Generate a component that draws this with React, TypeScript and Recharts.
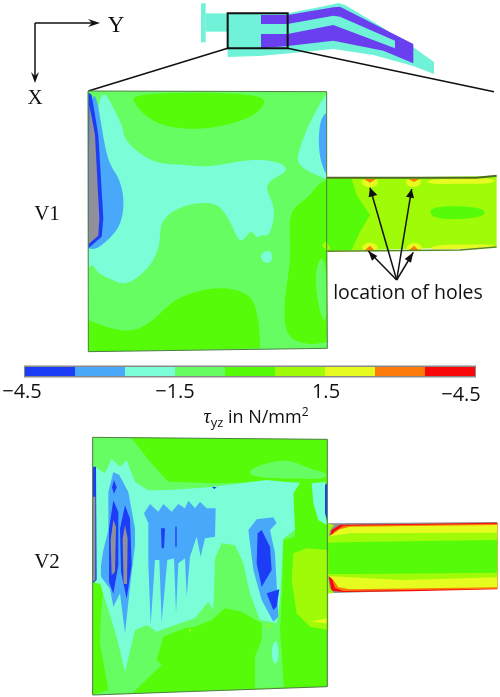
import { ScatterChart, Scatter, XAxis, YAxis, ReferenceArea } from "recharts";

type Pt = [number, number];

const BLUE = "#1c3cf5";
const SKY = "#4aa8fb";
const CYAN = "#7bfdd8";
const LEAF = "#66fd62";
const GREEN = "#55fb08";
const LIME = "#a0fb08";
const YELLOW = "#e6fb20";
const ORANGE = "#fb7a08";
const RED = "#f80808";
const GREY = "#90909a";
const TEAL = "#70f2d8";
const PURPLE = "#6a3ff0";

// colour bar
const barLevels = [-4.5, -3.5, -2.5, -1.5, -0.5, 0.5, 1.5, 2.5, 3.5, 4.5];
const barColors = [BLUE, SKY, CYAN, LEAF, GREEN, LIME, YELLOW, ORANGE, RED];

// small model at the top
const flange: Pt[] = [[603, 10], [617, 10], [617, 127], [603, 127]];
const neck: Pt[] = [[617, 40], [685, 40], [685, 95], [617, 95]];
const body: Pt[] = [[683, 40], [864, 40], [990, 15], [1015, 9], [1035, 15], [1125, 68], [1240, 142], [1302, 186], [1302, 222], [1240, 198], [1120, 165], [1000, 147], [870, 160], [780, 168], [683, 171]];
const slots: Pt[] = [[783, 45], [863, 45], [1000, 22], [1020, 20], [1240, 132], [1240, 190], [1150, 152], [1000, 122], [863, 138], [783, 145], [783, 102], [863, 102], [1000, 75], [1185, 145], [1185, 122], [1020, 50], [1000, 47], [863, 72], [783, 72]];
const detailBox: Pt[] = [[683, 40], [863, 40], [863, 145], [683, 145]];
const leaderLeft: Pt[] = [[683, 145], [265, 273]];
const leaderRight: Pt[] = [[863, 145], [1482, 275]];

// V1 block
const v1Outline: Pt[] = [[24, 18], [740, 20], [740, 495], [742, 790], [25, 800]];
const v1Top: Pt[] = [[150, 22], [560, 22], [555, 60], [520, 95], [440, 122], [340, 135], [250, 125], [190, 90], [160, 50]];
const v1Cyan: Pt[] = [[50, 22], [80, 25], [100, 70], [130, 125], [130, 160], [170, 200], [230, 238], [310, 238], [390, 248], [470, 228], [560, 222], [620, 240], [620, 265], [545, 295], [580, 350], [585, 400], [565, 460], [545, 445], [530, 465], [518, 435], [505, 445], [480, 480], [460, 430], [430, 370], [390, 348], [300, 362], [250, 400], [240, 430], [240, 480], [220, 530], [180, 575], [130, 603], [90, 580], [50, 565], [40, 535], [25, 550], [25, 550], [25, 480], [25, 480]];
const v1Island: Pt[] = [[530, 515], [570, 488], [580, 520], [565, 542]];
const v1Sky: Pt[] = [[28, 25], [50, 25], [65, 130], [85, 240], [115, 270], [135, 340], [125, 420], [90, 460], [50, 495], [25, 490], [25, 490]];
const v1Blue: Pt[] = [[25, 22], [35, 30], [55, 150], [70, 400], [65, 455], [25, 490]];
const v1Grey: Pt[] = [[28, 60], [45, 150], [58, 400], [55, 452], [25, 478]];
const v1RightCyan: Pt[] = [[725, 45], [740, 30], [740, 30], [740, 282], [740, 282], [700, 268], [655, 240], [650, 215], [680, 130]];
const v1RightSky: Pt[] = [[735, 85], [740, 85], [740, 85], [740, 270], [740, 270], [725, 240], [715, 190], [718, 110]];
const v1RightGreen: Pt[] = [[740, 285], [740, 285], [740, 285], [710, 300], [690, 335], [640, 365], [625, 410], [635, 520], [615, 620], [610, 730], [640, 770], [700, 780], [742, 770], [742, 770], [742, 770], [742, 495], [742, 495], [742, 495]];
const v1RightLeaf: Pt[] = [[740, 500], [742, 735], [720, 690], [705, 600], [710, 530]];
const v1Spot: Pt[] = [[725, 482], [738, 468], [752, 490], [742, 497]];
const v1Bottom: Pt[] = [[25, 705], [25, 705], [25, 705], [60, 720], [140, 745], [210, 720], [270, 650], [340, 620], [420, 605], [500, 620], [530, 660], [540, 750], [540, 790], [540, 790], [540, 790], [25, 800], [25, 800], [25, 800]];

// V1 channel
const c1Body: Pt[] = [[20, 40], [530, 33], [530, 245], [20, 258]];
const c1Wedge: Pt[] = [[18, 42], [95, 42], [110, 90], [150, 150], [120, 200], [95, 255], [18, 258]];
const c1Blob: Pt[] = [[330, 135], [355, 122], [500, 125], [500, 160], [360, 165], [330, 150]];
const c1TopBand: Pt[] = [[300, 42], [530, 35], [530, 58], [420, 55], [330, 60]];
const c1LowBand: Pt[] = [[320, 255], [340, 240], [420, 238], [530, 238], [530, 245], [420, 252]];
const c1EdgeTop: Pt[] = [[20, 38], [470, 38], [530, 32]];
const c1EdgeLow: Pt[] = [[20, 259], [420, 255], [530, 246]];
const holeGlow: Pt[][] = [
  [[118, 42], [180, 42], [172, 62], [150, 70], [128, 62]],
  [[252, 42], [310, 42], [300, 62], [280, 68], [260, 62]],
  [[122, 258], [128, 238], [150, 230], [172, 238], [178, 258]],
  [[255, 258], [262, 240], [282, 230], [305, 240], [312, 258]],
];
const holeCore: Pt[][] = [
  [[132, 42], [168, 42], [150, 53]],
  [[265, 42], [298, 42], [282, 51]],
  [[132, 258], [150, 242], [165, 258]],
  [[265, 258], [282, 242], [298, 258]],
];
const arrowApex: Pt = [230, 345];
const arrowTips: Pt[] = [[150, 68], [275, 72], [145, 258], [280, 262]];
const arrowHeads: Pt[][] = [
  [[150, 68], [146, 97], [172, 90]],
  [[275, 72], [258, 95], [282, 100]],
  [[145, 258], [172, 273], [156, 287]],
  [[280, 262], [254, 282], [273, 293]],
];

// V2 block
const v2Outline: Pt[] = [[38, 22], [742, 28], [742, 280], [742, 490], [742, 770], [38, 795]];
const v2Leaf: Pt[] = [[38, 22], [155, 25], [210, 95], [265, 155], [400, 160], [660, 155], [640, 190], [645, 320], [610, 330], [605, 590], [612, 772], [240, 783], [38, 795]];
const v2TopLeaf: Pt[] = [[495, 125], [550, 100], [630, 85], [690, 120], [740, 125], [740, 150], [640, 145], [530, 145]];
const v2LeftGreen: Pt[] = [[38, 450], [70, 470], [62, 560], [60, 640], [85, 780], [38, 795]];
const v2MidGreen: Pt[] = [[230, 690], [250, 620], [315, 595], [345, 590], [395, 570], [435, 535], [485, 545], [545, 580], [545, 630], [525, 680], [525, 775], [160, 787], [245, 705]];
const v2RightGreen: Pt[] = [[615, 330], [690, 315], [742, 290], [742, 770], [612, 770], [600, 600]];
const v2Lime: Pt[] = [[640, 370], [680, 355], [745, 360], [745, 600], [690, 590], [650, 550], [635, 450]];
const v2Yellow: Pt[] = [[695, 575], [740, 565], [740, 580]];
const v2Spots: Pt[][] = [
  [[325, 598], [335, 598], [330, 608]],
  [[560, 585], [572, 585], [566, 596]],
];
const v2Cyan: Pt[] = [[95, 86], [120, 111], [140, 91], [165, 156], [205, 181], [270, 180], [395, 171], [560, 150], [660, 160], [640, 190], [645, 300], [610, 325], [600, 510], [590, 580], [540, 570], [510, 490], [490, 400], [465, 345], [425, 340], [405, 385], [400, 540], [385, 515], [345, 565], [285, 585], [230, 605], [200, 585], [165, 600], [135, 725], [110, 620], [85, 540], [60, 460], [45, 460], [45, 110], [75, 130]];
const v2RightCyan: Pt[] = [[695, 160], [735, 155], [740, 285], [715, 270], [700, 220]];
const v2RightBlue: Pt[] = [[735, 165], [742, 160], [742, 275], [735, 250]];
const v2EdgeBlue: Pt[] = [[38, 110], [48, 110], [50, 450], [38, 460]];
const v2EdgeGrey: Pt[] = [[38, 200], [46, 200], [46, 450], [38, 455]];
const v2Sky: Pt[] = [[100, 126], [118, 135], [145, 186], [165, 296], [165, 346], [150, 470], [135, 610], [120, 490], [100, 530], [90, 476], [63, 440], [63, 406], [70, 361], [85, 300], [85, 186]];
const v2Blue: Pt[][] = [
  [[102, 150], [110, 172], [102, 192], [96, 172]],
  [[100, 211], [115, 246], [115, 406], [100, 491], [87, 456], [87, 296]],
  [[135, 226], [150, 266], [155, 406], [140, 506], [123, 426], [120, 296]],
  [[243, 295], [255, 295], [252, 355], [245, 355]],
  [[286, 290], [290, 290], [290, 350], [286, 350]],
  [[395, 170], [410, 172], [403, 177]],
];
const v2Grey: Pt[][] = [
  [[100, 270], [108, 290], [105, 425], [95, 436], [92, 330]],
  [[135, 285], [143, 326], [141, 462], [131, 462], [128, 326]],
];
const v2Comb: Pt[] = [[192, 250], [210, 222], [235, 245], [250, 222], [275, 245], [295, 222], [315, 235], [325, 212], [345, 235], [360, 215], [380, 235], [407, 235], [405, 320], [375, 325], [362, 380], [350, 320], [330, 380], [320, 500], [315, 385], [295, 400], [288, 550], [282, 385], [262, 390], [245, 575], [238, 390], [225, 390], [212, 585], [205, 400], [205, 280]];
const v2BlobSky: Pt[] = [[505, 300], [530, 268], [580, 262], [590, 280], [570, 300], [585, 370], [595, 560], [580, 575], [545, 510], [520, 420], [510, 340]];
const v2BlobBlue: Pt[][] = [
  [[533, 310], [545, 300], [570, 350], [575, 420], [545, 470], [530, 400]],
  [[560, 490], [598, 478], [590, 530], [580, 540]],
];
const v2Island: Pt[] = [[575, 650], [590, 620], [600, 680], [585, 710], [575, 680]];

// V2 channel
const c2Grey: Pt[] = [[50, 70], [562, 66], [562, 265], [50, 280]];
const c2Red: Pt[] = [[60, 112], [65, 90], [90, 74], [300, 72], [562, 68], [562, 268], [300, 274], [100, 276], [65, 272], [58, 240], [52, 170]];
const c2Orange: Pt[] = [[66, 112], [72, 95], [100, 77], [562, 71], [562, 266], [100, 273], [75, 264], [66, 235], [55, 170]];
const c2Yellow: Pt[] = [[52, 112], [90, 88], [120, 80], [562, 75], [562, 262], [120, 268], [85, 262], [70, 240], [52, 225]];
const c2Lime: Pt[] = [[50, 110], [120, 100], [562, 98], [562, 232], [280, 240], [50, 228]];
const c2Green: Pt[] = [[50, 128], [140, 126], [562, 120], [562, 218], [140, 222], [50, 222]];
const c2Corners: Pt[][] = [
  [[50, 70], [72, 75], [60, 92], [56, 110], [50, 110]],
  [[50, 228], [56, 240], [60, 265], [72, 279], [50, 280]],
];

// labels, in page pixels
const labels = [
  { x: 116, y: 32, text: "Y", size: 23, family: "serif" },
  { x: 35, y: 104, text: "X", size: 21, family: "serif" },
  { x: 47, y: 220, text: "V1", size: 21, family: "serif" },
  { x: 47, y: 568, text: "V2", size: 21, family: "serif" },
  { x: 408, y: 299, text: "location of holes", size: 19.5, family: "sans" },
  { x: 22, y: 398, text: "−4.5", size: 20, family: "sans" },
  { x: 175, y: 398, text: "−1.5", size: 20, family: "sans" },
  { x: 326, y: 398, text: "1.5", size: 20, family: "sans" },
  { x: 461, y: 401, text: "−4.5", size: 20, family: "sans" },
];
const axisLines: Pt[][] = [[[35, 23], [96, 23]], [[35, 23], [35, 80]]];
const axisHeads: Pt[][] = [
  [[100, 23], [88, 19], [92, 23], [88, 27]],
  [[35, 83], [31, 72], [35, 76], [39, 72]],
];

const SERIF = "'Liberation Serif', serif";
const SANS = "'Open Sans', sans-serif";

// every view has picture units of its own, given as the page's left/top origin and 3 units per pixel
const views: { id: string; x: number; y: number }[] = [
  { id: "top", x: 0, y: 0 },
  { id: "v1", x: 80, y: 85 },
  { id: "c1", x: 320, y: 165 },
  { id: "v2", x: 80, y: 430 },
  { id: "c2", x: 310, y: 500 },
];

const toData = (pts: Pt[]) => pts.map(([x, y]) => ({ x, y }));

let n = 0;
function area(view: string, pts: Pt[], fill: string, smooth = false, stroke = "none", strokeWidth = 0) {
  return (
    <Scatter
      key={n++}
      xAxisId={view}
      yAxisId={view}
      data={toData(pts)}
      line={{ fill, stroke, strokeWidth }}
      lineJointType={smooth ? "basisClosed" : "linearClosed"}
      shape={() => null}
      isAnimationActive={false}
    />
  );
}

function stroke(view: string, pts: Pt[], color: string, strokeWidth: number) {
  return (
    <Scatter
      key={n++}
      xAxisId={view}
      yAxisId={view}
      data={toData(pts)}
      line={{ fill: "none", stroke: color, strokeWidth }}
      lineJointType="linear"
      shape={() => null}
      isAnimationActive={false}
    />
  );
}

export default function App() {
  n = 0;
  return (
    <div style={{ position: "absolute", left: 0, top: 0, width: 500, height: 697, background: "#fff", filter: "blur(0.45px)" }}>
      <ScatterChart width={500} height={697} margin={{ top: 0, right: 0, bottom: 0, left: 0 }}>
        {views.map((v) => (
          <XAxis key={v.id} hide xAxisId={v.id} type="number" dataKey="x" domain={[-3 * v.x, 3 * (500 - v.x)]} allowDataOverflow />
        ))}
        {views.map((v) => (
          <YAxis key={v.id} hide yAxisId={v.id} type="number" dataKey="y" reversed domain={[-3 * v.y, 3 * (697 - v.y)]} allowDataOverflow />
        ))}
        <XAxis hide xAxisId="px" type="number" dataKey="x" domain={[0, 500]} allowDataOverflow />
        <YAxis hide yAxisId="px" type="number" dataKey="y" reversed domain={[0, 697]} allowDataOverflow />
        <XAxis hide xAxisId="bar" type="number" dataKey="x" domain={[-5, 5]} allowDataOverflow />

        <ReferenceArea xAxisId="bar" yAxisId="px" x1={-4.52} x2={4.52} y1={365.5} y2={377.5} fill="#8a8a8a" fillOpacity={1} stroke="none" />
        {barColors.map((c, i) => (
          <ReferenceArea key={c} xAxisId="bar" yAxisId="px" x1={barLevels[i]} x2={barLevels[i + 1]} y1={367} y2={376} fill={c} fillOpacity={1} stroke="none" />
        ))}

        {area("top", flange, TEAL)}
        {area("top", neck, TEAL)}
        {area("top", body, TEAL)}
        {area("top", slots, PURPLE)}
        {area("top", detailBox, "none", false, "#111", 2)}
        {stroke("top", leaderLeft, "#111", 1.5)}
        {stroke("top", leaderRight, "#111", 1.5)}

        {area("c1", c1Body, LIME)}
        {area("c1", c1Wedge, GREEN)}
        {area("c1", c1Blob, GREEN, true)}
        {area("c1", c1TopBand, YELLOW, true)}
        {area("c1", c1LowBand, YELLOW, true)}
        {holeGlow.map((h) => area("c1", h, YELLOW, true))}
        {holeCore.map((h) => area("c1", h, ORANGE))}
        {stroke("c1", c1EdgeTop, "#4d6a28", 2)}
        {stroke("c1", c1EdgeLow, "#5a8a20", 1.5)}

        {area("v1", v1Outline, LEAF)}
        {area("v1", v1Top, GREEN, true)}
        {area("v1", v1Bottom, GREEN, true)}
        {area("v1", v1RightGreen, GREEN, true)}
        {area("v1", v1RightLeaf, LEAF, true)}
        {area("v1", v1Spot, LIME)}
        {area("v1", v1Cyan, CYAN, true)}
        {area("v1", v1Island, CYAN, true)}
        {area("v1", v1Sky, SKY, true)}
        {area("v1", v1Blue, BLUE)}
        {area("v1", v1Grey, GREY)}
        {area("v1", v1RightCyan, CYAN, true)}
        {area("v1", v1RightSky, SKY, true)}
        {area("v1", v1Outline, "none", false, "#4f7d45", 1)}

        {area("c2", c2Grey, GREY)}
        {area("c2", c2Red, RED)}
        {area("c2", c2Orange, ORANGE)}
        {area("c2", c2Yellow, YELLOW)}
        {area("c2", c2Lime, LIME)}
        {area("c2", c2Green, GREEN)}
        {c2Corners.map((c) => area("c2", c, LIME))}

        {area("v2", v2Outline, GREEN)}
        {area("v2", v2Leaf, LEAF)}
        {area("v2", v2TopLeaf, LEAF, true)}
        {area("v2", v2LeftGreen, GREEN)}
        {area("v2", v2MidGreen, GREEN)}
        {area("v2", v2RightGreen, GREEN)}
        {area("v2", v2Lime, LIME)}
        {area("v2", v2Yellow, YELLOW)}
        {v2Spots.map((s) => area("v2", s, LIME))}
        {area("v2", v2Cyan, CYAN)}
        {area("v2", v2Island, CYAN, true)}
        {area("v2", v2RightCyan, CYAN)}
        {area("v2", v2RightBlue, BLUE)}
        {area("v2", v2EdgeBlue, BLUE)}
        {area("v2", v2EdgeGrey, GREY)}
        {area("v2", v2Sky, SKY)}
        {area("v2", v2Comb, SKY)}
        {area("v2", v2BlobSky, SKY)}
        {v2Blue.map((b) => area("v2", b, BLUE))}
        {v2BlobBlue.map((b) => area("v2", b, BLUE))}
        {v2Grey.map((g) => area("v2", g, GREY))}
        {area("v2", v2Outline, "none", false, "#4f7d45", 1)}

        {arrowTips.map((t) => stroke("c1", [arrowApex, t], "#111", 1.5))}
        {arrowHeads.map((h) => area("c1", h, "#111"))}
        {axisLines.map((l) => stroke("px", l, "#111", 1.5))}
        {axisHeads.map((h) => area("px", h, "#111"))}

        <Scatter
          xAxisId="px"
          yAxisId="px"
          data={labels}
          isAnimationActive={false}
          shape={(p: any) => (
            <text
              x={p.cx}
              y={p.cy}
              textAnchor="middle"
              fontSize={p.payload.size}
              fontFamily={p.payload.family === "serif" ? SERIF : SANS}
              fill="#111"
            >
              {p.payload.text}
            </text>
          )}
        />
        <Scatter
          xAxisId="px"
          yAxisId="px"
          data={[{ x: 256, y: 423 }]}
          isAnimationActive={false}
          shape={(p: any) => (
            <text x={p.cx} y={p.cy} textAnchor="middle" fontSize={18} fontFamily={SANS} fill="#111">
              <tspan fontFamily={SERIF} fontStyle="italic" fontSize={20}>τ</tspan>
              <tspan fontSize={13} dy={4}>yz</tspan>
              <tspan dy={-4}> in N/mm</tspan>
              <tspan fontSize={12} dy={-7}>2</tspan>
            </text>
          )}
        />
      </ScatterChart>
    </div>
  );
}
